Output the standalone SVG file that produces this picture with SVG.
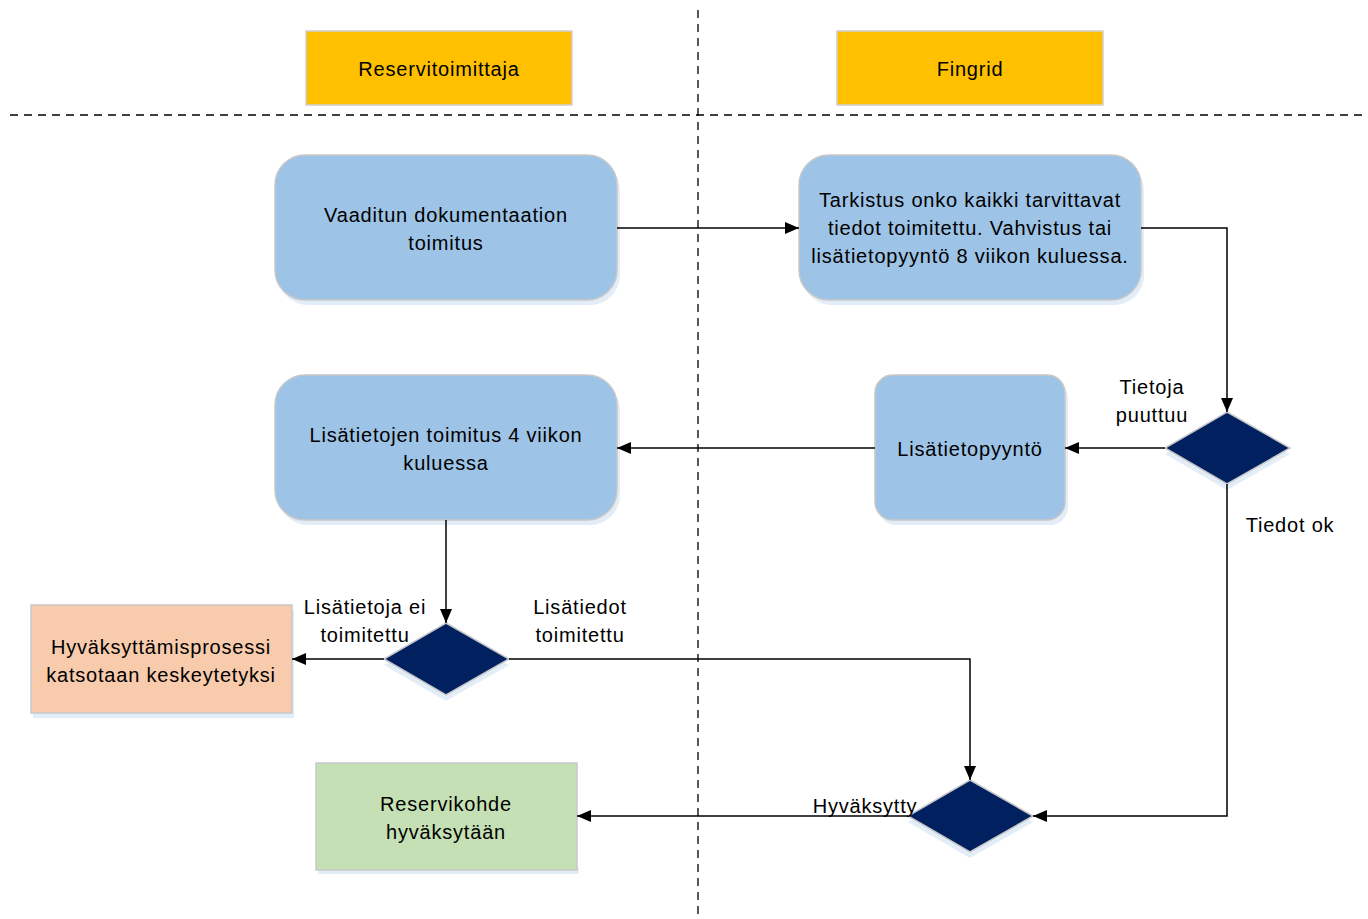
<svg xmlns="http://www.w3.org/2000/svg" width="1368" height="919" viewBox="0 0 1368 919">
<defs>
<marker id="arr" viewBox="0 0 14 12" refX="14" refY="6" markerWidth="14" markerHeight="12" markerUnits="userSpaceOnUse" orient="auto">
<path d="M0,0 L14,6 L0,12 Z" fill="#000"/>
</marker>
</defs>
<style>
text{font-family:"Liberation Sans",Arial,sans-serif;font-size:20px;letter-spacing:0.8px;fill:#000;text-anchor:middle}
.hdr{fill:#FFC000;stroke:#d0d0d0;stroke-width:1.5}
.blue{fill:#9DC3E6;stroke:#c8c8c8;stroke-width:1.5}
.sh{fill:#e3edf7}
.dia{fill:#002060;stroke:#c8c8c8;stroke-width:1.5}
.con{fill:none;stroke:#000;stroke-width:1.5;marker-end:url(#arr)}
.dash{stroke:#000;stroke-width:1.3;stroke-dasharray:8,6}
</style>
<rect width="1368" height="919" fill="#fff"/>
<line class="dash" x1="698" y1="10" x2="698" y2="919"/>
<line class="dash" x1="10" y1="115" x2="1368" y2="115"/>

<g id="hdr1"><rect class="hdr" x="306" y="31" width="266" height="74"/><text x="439" y="76">Reservitoimittaja</text></g>
<g id="hdr2"><rect class="hdr" x="837" y="31" width="266" height="74"/><text x="970" y="76">Fingrid</text></g>

<g id="n1"><rect class="sh" x="278" y="160" width="342" height="145" rx="30"/><rect class="blue" x="275" y="155" width="342" height="145" rx="30"/>
<text x="446" y="222">Vaaditun dokumentaation</text><text x="446" y="250">toimitus</text></g>

<g id="n2"><rect class="sh" x="802" y="160" width="342" height="145" rx="30"/><rect class="blue" x="799" y="155" width="342" height="145" rx="30"/>
<text x="970" y="207">Tarkistus onko kaikki tarvittavat</text><text x="970" y="235">tiedot toimitettu. Vahvistus tai</text><text x="970" y="263">lisätietopyyntö 8 viikon kuluessa.</text></g>

<g id="n3"><rect class="sh" x="278" y="380" width="342" height="145" rx="30"/><rect class="blue" x="275" y="375" width="342" height="145" rx="30"/>
<text x="446" y="442">Lisätietojen toimitus 4 viikon</text><text x="446" y="470">kuluessa</text></g>

<g id="n4"><rect class="sh" x="878" y="380" width="190" height="145" rx="18"/><rect class="blue" x="875" y="375" width="190" height="145" rx="18"/>
<text x="970" y="456">Lisätietopyyntö</text></g>

<g id="d1"><polygon class="sh" points="1227,418 1290,454 1227,490 1165,454"/><polygon class="dia" points="1227,412 1290,448 1227,484 1165,448"/></g>
<g id="d2"><polygon class="sh" points="446,629 509,665 446,701 384,665"/><polygon class="dia" points="446,623 509,659 446,695 384,659"/></g>
<g id="d3"><polygon class="sh" points="970,786 1033,822 970,858 908,822"/><polygon class="dia" points="970,780 1033,816 970,852 908,816"/></g>

<g id="n5"><rect class="sh" x="33" y="610" width="261" height="108"/><rect x="31" y="605" width="261" height="108" fill="#F8CBAD" stroke="#c8c8c8" stroke-width="1.5"/>
<text x="161" y="654">Hyväksyttämisprosessi</text><text x="161" y="682">katsotaan keskeytetyksi</text></g>

<g id="n6"><rect class="sh" x="318" y="868" width="261" height="6"/><rect x="316" y="763" width="261" height="107" fill="#C5E0B4" stroke="#c8c8c8" stroke-width="1.5"/>
<text x="446" y="811">Reservikohde</text><text x="446" y="839">hyväksytään</text></g>

<g id="connectors">
<path class="con" d="M617,228 L799,228"/>
<path class="con" d="M1141,228 L1227,228 L1227,412"/>
<path class="con" d="M1165,448 L1065,448"/>
<path class="con" d="M875,448 L617,448"/>
<path class="con" d="M446,520 L446,623"/>
<path class="con" d="M384,659 L292,659"/>
<path class="con" d="M509,659 L970,659 L970,780"/>
<path class="con" d="M1227,484 L1227,816 L1033,816"/>
<path class="con" d="M908,816 L577,816"/>
</g>

<g id="labels">
<text x="1152" y="394">Tietoja</text><text x="1152" y="422">puuttuu</text>
<text x="1290" y="532">Tiedot ok</text>
<text x="365" y="614">Lisätietoja ei</text><text x="365" y="642">toimitettu</text>
<text x="580" y="614">Lisätiedot</text><text x="580" y="642">toimitettu</text>
<text x="865" y="813">Hyväksytty</text>
</g>
</svg>
